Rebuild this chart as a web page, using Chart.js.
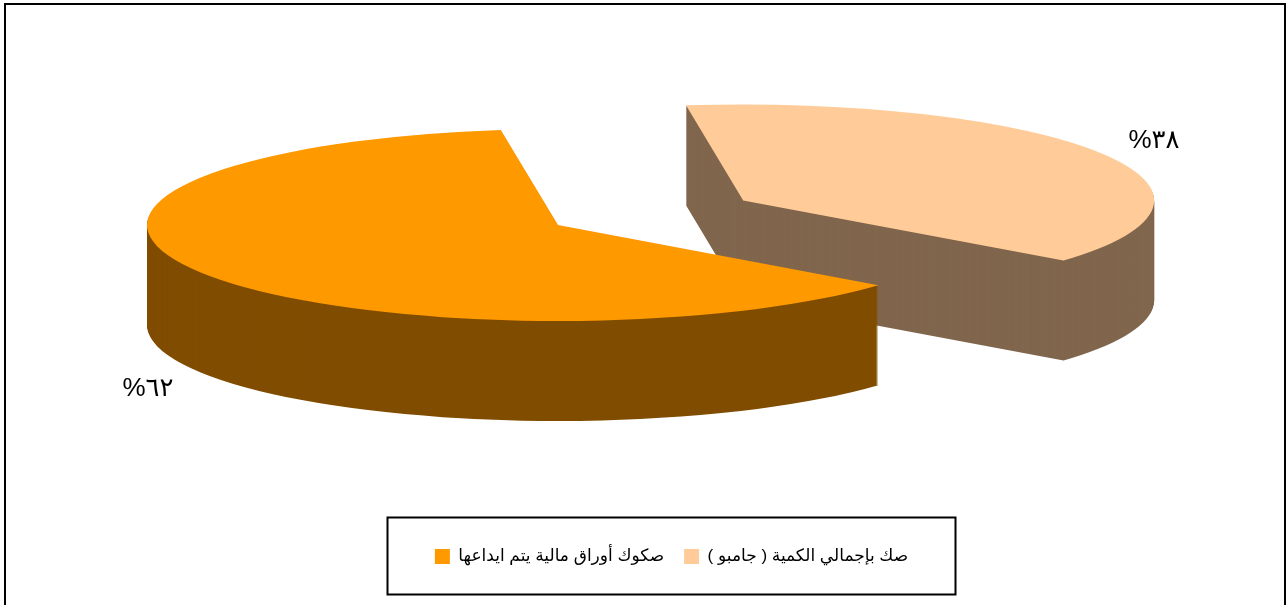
<!DOCTYPE html>
<html lang="ar">
<head>
<meta charset="utf-8">
<title>Chart</title>
<script src="https://cdn.jsdelivr.net/npm/chart.js@4"></script>
<style>
  html, body { margin: 0; padding: 0; background: #fff; overflow: hidden; }
  canvas { display: block; }
</style>
</head>
<body>
<canvas id="pieChart" width="1287" height="605"></canvas>
<script>
// chart values
const categories = ["صك بإجمالي الكمية ( جامبو )", "صكوك أوراق مالية يتم ايداعها"];
const shares = [38, 62];
const shareLabels = ["٣٨%", "٦٢%"];

// colours
const topColors = ["#FFCC99", "#FF9900"];
const sideColors = ["#80664D", "#804D00"];

// fake 3D settings, all in screen pixels
const pieCenter = { x: 558, y: 225 };
const radiusX = 411;
const radiusY = 96;
const depth = 100;
const explode = [213, 0]; // how far each slice is pulled out
const labelSpots = [{ x: 1154, y: 141 }, { x: 148, y: 389 }];
const fontStack = "'Liberation Sans', 'DejaVu Sans', sans-serif";

// draw one arc squashed into an ellipse, pushed down by dy
function drawSlice(ctx, arc, i, color, dy) {
  const mid = (arc.startAngle + arc.endAngle) / 2;
  const sx = radiusX / arc.outerRadius;
  const sy = radiusY / arc.outerRadius;
  const opts = arc.options;
  arc.options = Object.create(opts);
  arc.options.backgroundColor = color;
  ctx.save();
  ctx.translate(
    pieCenter.x + Math.cos(mid) * explode[i],
    pieCenter.y + Math.sin(mid) * explode[i] * (radiusY / radiusX) + dy
  );
  ctx.scale(sx, sy);
  ctx.translate(-arc.x, -arc.y);
  arc.draw(ctx);
  ctx.restore();
  arc.options = opts;
}

const pie3d = {
  id: "pie3d",
  beforeDatasetsDraw(chart) {
    const ctx = chart.ctx;
    const arcs = chart.getDatasetMeta(0).data;
    arcs.forEach((arc, i) => {
      for (let d = depth; d > 0; d--) {
        drawSlice(ctx, arc, i, sideColors[i], d);
      }
      drawSlice(ctx, arc, i, topColors[i], 0);
    });
    return false; // already drawn above
  },
  afterDraw(chart) {
    const ctx = chart.ctx;
    ctx.save();
    // share labels
    ctx.fillStyle = "#000";
    ctx.font = "26px " + fontStack;
    ctx.textAlign = "center";
    ctx.textBaseline = "middle";
    ctx.direction = "rtl";
    shareLabels.forEach((t, i) => ctx.fillText(t, labelSpots[i].x, labelSpots[i].y));
    // outer frame and legend frame
    ctx.strokeStyle = "#000";
    ctx.lineWidth = 2;
    ctx.strokeRect(5, 4, 1280, 640);
    ctx.strokeRect(387.5, 517.5, 568, 77);
    ctx.restore();
  },
};

new Chart(document.getElementById("pieChart"), {
  type: "pie",
  data: {
    labels: categories,
    datasets: [{ data: shares, backgroundColor: topColors, borderWidth: 0 }],
  },
  options: {
    responsive: false,
    animation: false,
    rotation: -8,
    layout: { padding: { left: 56, bottom: 30 } },
    plugins: {
      tooltip: { enabled: false },
      legend: {
        position: "bottom",
        reverse: true,
        textDirection: "rtl",
        labels: {
          color: "#000",
          boxWidth: 15,
          boxHeight: 15,
          padding: 20,
          font: { family: fontStack, size: 17 },
        },
      },
    },
  },
  plugins: [pie3d],
});
</script>
</body>
</html>
